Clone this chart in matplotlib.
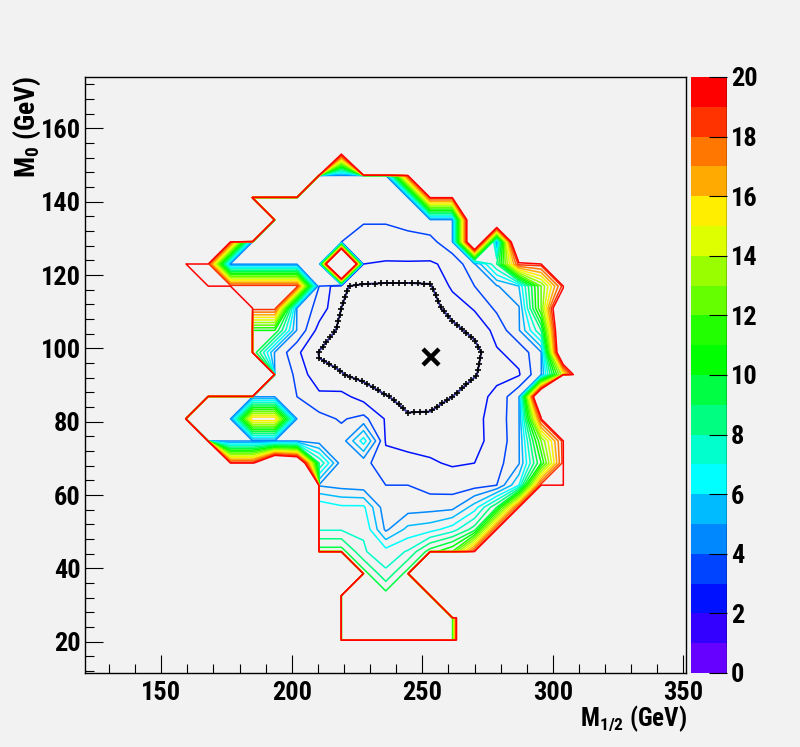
import numpy as np
import matplotlib
matplotlib.use("Agg")
import matplotlib.pyplot as plt
from matplotlib.colors import ListedColormap, BoundaryNorm
from matplotlib.cm import ScalarMappable
from matplotlib.lines import Line2D
from matplotlib import font_manager

# ---------------- data ----------------
O = 1000.0  # outside the scanned region

# grid nodes (GeV)
m_half = [151.0, 159.5, 168.0, 176.5, 185.0, 193.5, 202.0, 210.5, 219.0, 227.5,
          236.0, 244.5, 253.0, 261.5, 270.0, 278.5, 287.0, 295.5, 304.0, 312.5]
m_zero = [14.47, 20.5, 26.53, 32.56, 38.59, 44.62, 50.65, 56.68, 62.71, 68.74,
          74.77, 80.8, 86.83, 92.86, 98.89, 104.92, 110.95, 116.98, 123.01,
          129.04, 135.07, 141.1, 147.13, 153.16, 159.19]

# chi2 values, rows listed from top (M0 = 159.19) to bottom (M0 = 14.47)
chi2_rows_top_down = [
    [O]*20,
    [O, O, O, O, O, O, O, O, 19.5, O, O, O, O, O, O, O, O, O, O, O],
    [O, O, O, O, O, O, O, 3.9, 3.9, 3.9, 3.9, 18.5, O, O, O, O, O, O, O, O],
    [O, O, O, O, 3.8, 3.7, 3.7, 3.6, 3.6, 3.5, 3.5, 3.9, 18.5, 18.5, O, O, O, O, O, O],
    [O, O, O, O, O, 3.7, 3.6, 3.5, 3.4, 3.1, 3.1, 3.3, 3.9, 3.9, 27, 27, O, O, O, O],
    [O, O, O, 18.5, 3.9, 3.6, 3.5, 3.3, 3.0, 2.6, 2.6, 2.7, 2.6, 3.9, 27, 3.9, 27, O, O, O],
    [O, 18.5, 18.5, 3.9, 3.9, 3.9, 3.9, 3.1, 55, 2.0, 1.9, 1.9, 1.9, 2.2, 3.9, 8, 18.5, 18.5, O, O],
    [O, O, 18.5, 18.5, 18.5, 18.5, 18.5, 3.0, 1.05, 0.9, 0.85, 0.85, 0.9, 2.2, 3.0, 3.9, 5, 12, 18.5, O],
    [O, O, O, O, 18.5, 18.5, 3.9, 2.6, 1.0, 0.6, 0.5, 0.5, 0.6, 1.4, 2.1, 3.2, 3.9, 12, 25, O],
    [O, O, O, O, 10, 10, 3.9, 1.6, 0.8, 0.5, 0.35, 0.3, 0.4, 0.7, 1.3, 2.3, 3.9, 8, 25, O],
    [O, O, O, O, 10, 3.9, 2.2, 0.95, 0.7, 0.45, 0.3, 0.25, 0.3, 0.5, 0.6, 1.9, 2.3, 3.9, 25, O],
    [O, O, O, O, O, 3.9, 2.8, 1.15, 1.05, 0.7, 0.45, 0.3, 0.3, 0.5, 0.9, 1.8, 1.9, 3.9, 14, 25],
    [O, O, 3.6, 3.8, 3.95, 3.95, 3.0, 2.3, 2.3, 1.6, 1.05, 0.75, 0.8, 1.0, 1.7, 2.2, 3.9, 27, O, O],
    [O, 3.6, 3.6, 3.95, 16, 16, 3.95, 3.3, 2.9, 3.3, 1.9, 1.1, 1.1, 1.6, 1.8, 2.3, 3.9, 18.5, O, O],
    [O, O, 3.6, 3.95, 3.95, 3.95, 3.95, 3.5, 3.4, 6.5, 1.9, 1.7, 1.7, 1.8, 1.85, 2.2, 3.9, 12, 18.5, O],
    [O, O, O, 18.5, 18.5, 27, 25, 8, 3.4, 3.3, 2.4, 2.3, 2.1, 1.9, 2.0, 2.6, 3.9, 10, 18.5, O],
    [O, O, O, O, O, O, O, 3.9, 3.6, 3.4, 3.0, 3.0, 2.6, 2.5, 2.6, 3.0, 6, 18.5, 18.5, O],
    [O, O, O, O, O, O, O, 6.8, 6.2, 6.2, 3.3, 3.5, 3.6, 3.7, 5.5, 9, 18.5, O, O, O],
    [O, O, O, O, O, O, O, 6.9, 6.9, 6.9, 3.8, 5.3, 5.6, 6.5, 8.5, 18.5, O, O, O, O],
    [O, O, O, O, O, O, O, 9.5, 9.5, 7.1, 6.4, 7.1, 9.5, 11, 18.5, O, O, O, O, O],
    [O, O, O, O, O, O, O, O, O, 9.5, 7.2, 9.5, O, O, O, O, O, O, O, O],
    [O, O, O, O, O, O, O, O, 9.5, 9.5, 9.5, 9.5, 9.5, O, O, O, O, O, O, O],
    [O, O, O, O, O, O, O, O, 9.5, 9.5, 9.5, 9.5, 9.5, 9.5, 60, O, O, O, O, O],
    [O, O, O, O, O, O, O, O, 9.5, 9.5, 9.5, 9.5, 9.5, 9.5, 60, O, O, O, O, O],
    [O]*20,
]

best_fit_m_half = 253.5
best_fit_m_zero = 97.7

contour_levels = list(range(0, 20))
colorbar_ticks = [0, 2, 4, 6, 8, 10, 12, 14, 16, 18, 20]
palette = ['#6600ff', '#3300ff', '#0011ff', '#0044ff', '#0088ff', '#00bbff',
           '#00ffff', '#00ffcc', '#00ff80', '#00ff44', '#00ff00', '#22ff00',
           '#66ff00', '#99ff00', '#ddff00', '#ffee00', '#ffaa00', '#ff7700',
           '#ff3300', '#ff0000']

# ---------------- fonts (prefer a condensed bold sans, like ROOT's Helvetica) ----
fam, stretch = 'Liberation Sans', 'normal'
files = [f for f in font_manager.fontManager.ttflist]
for pattern in ['LiberationSansNarrow-Bold', 'RobotoCondensed-Bold',
                'NotoSans-CondensedBold', 'DejaVuSansCondensed-Bold']:
    hit = [f for f in files if pattern.lower() in f.fname.lower().replace('_', '-')]
    if hit:
        fam, stretch = hit[0].name, hit[0].stretch
        break
plt.rcParams['font.family'] = [fam, 'Liberation Sans', 'DejaVu Sans']
plt.rcParams['font.stretch'] = stretch
plt.rcParams['font.weight'] = 'bold'
plt.rcParams['mathtext.default'] = 'regular'
FS = 19 if stretch != 'normal' or 'Narrow' in fam or 'Condensed' in fam else 17

BG = '#f2f2f2'
Z = np.array(chi2_rows_top_down[::-1], dtype=float)
for r in chi2_rows_top_down:
    assert len(r) == len(m_half)
assert Z.shape == (len(m_zero), len(m_half))
X, Y = np.meshgrid(m_half, m_zero)

fig = plt.figure(figsize=(8.0, 7.47), dpi=100, facecolor=BG)
ax = fig.add_axes([85/800, 74/747, 601/800, 596/747])
ax.set_facecolor(BG)
ax.set_xlim(120.8, 351.0)
ax.set_ylim(11.5, 174.0)

line_levels = [l for l in contour_levels if l >= 2]
ax.contour(X, Y, Z, levels=line_levels, colors=[palette[l] for l in line_levels],
           linewidths=1.1, linestyles='solid')

# 1-sigma contour with cross markers
cs1 = ax.contour(X, Y, Z, levels=[1.0], colors='#2a2a90', linewidths=1.4,
                 linestyles='solid')
for seg in cs1.allsegs[0]:
    if len(seg) < 2:
        continue
    disp = ax.transData.transform(seg)
    d = np.concatenate([[0], np.cumsum(np.hypot(*np.diff(disp, axis=0).T))])
    s = np.arange(0, d[-1], 6.2)
    px = np.interp(s, d, disp[:, 0])
    py = np.interp(s, d, disp[:, 1])
    pts = ax.transData.inverted().transform(np.column_stack([px, py]))
    ax.plot(pts[:, 0], pts[:, 1], linestyle='none', marker='+', color='black',
            markersize=5, markeredgewidth=1.2)

ax.plot([best_fit_m_half], [best_fit_m_zero], marker='x', color='black',
        markersize=12, markeredgewidth=3.2, linestyle='none')

# axes styling (ROOT-like)
for side in ['top', 'right', 'left', 'bottom']:
    ax.spines[side].set_linewidth(1.0)
    ax.spines[side].set_color('black')
ax.set_xticks([150, 200, 250, 300, 350])
ax.set_yticks([20, 40, 60, 80, 100, 120, 140, 160])
ax.set_xticks(np.arange(130, 351, 10), minor=True)
ax.set_yticks(np.arange(12, 174, 4), minor=True)
ax.tick_params(axis='both', which='both', direction='in', top=False, right=False,
               width=0.8, color='black')
ax.tick_params(axis='both', which='major', length=13)
ax.tick_params(axis='both', which='minor', length=6.5)
ax.tick_params(axis='x', which='major', pad=6, labelsize=FS)
ax.tick_params(axis='y', which='major', pad=3, labelsize=FS)
for lab in ax.get_xticklabels() + ax.get_yticklabels():
    lab.set_fontweight('bold')
    lab.set_fontstretch(stretch)

fig.text(27/800, 1 - 76/747, r'M$_{0}$ (GeV)', rotation=90, ha='center', va='top',
         fontsize=FS + 1, fontweight='bold', fontstretch=stretch)
fig.text(687/800, 1 - 703/747, r'M$_{1/2}$ (GeV)', ha='right', va='top',
         fontsize=FS - 1, fontweight='bold', fontstretch=stretch)

# colour scale
cax = fig.add_axes([691/800, 74/747, 36/800, 596/747])
norm = BoundaryNorm(list(range(0, 21)), 20)
sm = ScalarMappable(norm=norm, cmap=ListedColormap(palette))
cb = fig.colorbar(sm, cax=cax, ticks=colorbar_ticks)
cb.outline.set_visible(False)
cax.add_line(Line2D([1, 1], [0, 1], transform=cax.transAxes, color='black', lw=1.0))
cax.tick_params(axis='y', direction='in', length=13, width=0.8, right=True,
                left=False, labelsize=FS, pad=3)
cb.minorticks_off()
for lab in cax.get_yticklabels():
    lab.set_fontweight('bold')
    lab.set_fontstretch(stretch)

fig.savefig('out.png', dpi=100, facecolor=BG)
